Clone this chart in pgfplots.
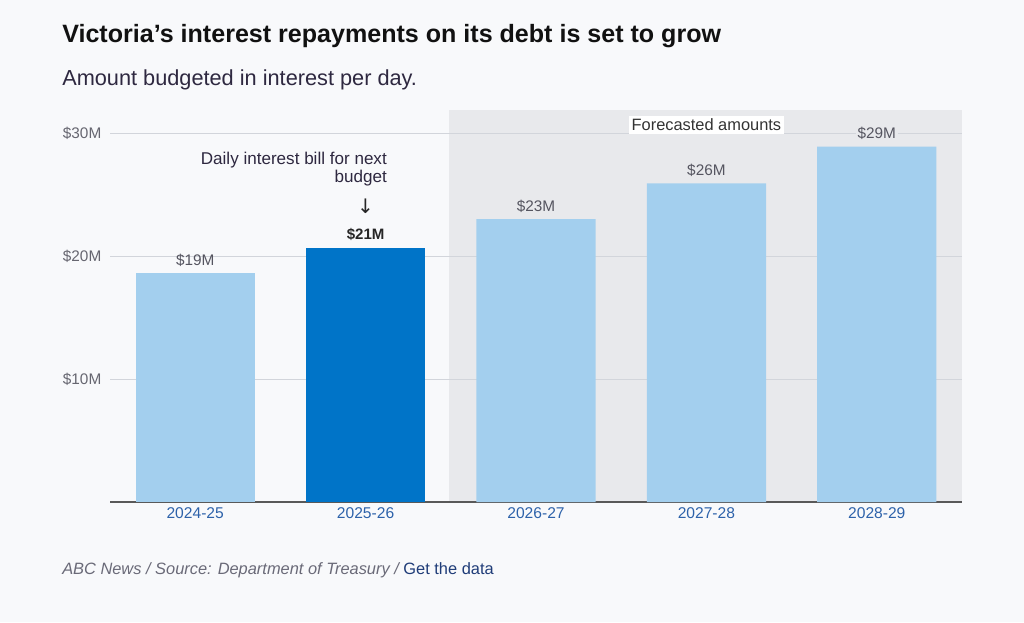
\documentclass[border=0pt]{standalone}
\usepackage{pgfplots}
\pgfplotsset{compat=1.18}
\usepackage{fontspec}
\setmainfont{Liberation Sans}
\newfontfamily\symfont{DejaVu Sans}
\definecolor{bg}{HTML}{F8F9FB}
\definecolor{shadec}{HTML}{E8E9EC}
\definecolor{lightbar}{HTML}{A3CFEE}
\definecolor{darkbar}{HTML}{0074C8}
\definecolor{xlab}{HTML}{2D62AA}
\definecolor{ylab}{HTML}{666670}
\definecolor{gridc}{HTML}{D2D5DB}
\definecolor{titlec}{HTML}{111111}
\definecolor{subc}{HTML}{2E2840}
\definecolor{foot}{HTML}{6A6A78}
\definecolor{link}{HTML}{1F3C78}
\definecolor{valc}{HTML}{555560}
\begin{document}
\begin{tikzpicture}[x=0.75pt,y=0.75pt]
\fill[bg] (0,0) rectangle (1024,622);
\fill[shadec] (449,120) rectangle (962,512);
\node[anchor=base west, inner sep=0, font=\bfseries\fontsize{18.8}{20}\selectfont, text=titlec] at (62,579) {Victoria's interest repayments on its debt is set to grow};
\node[anchor=base west, inner sep=0, font=\fontsize{16.3}{18}\selectfont, text=subc] at (62,536) {Amount budgeted in interest per day.};
\node[anchor=base west, inner sep=0, font=\fontsize{12.3}{14}\selectfont, text=foot] at (62,48) {\itshape ABC News / Source: Department of Treasury / \upshape\textcolor{link}{Get the data}};
\begin{axis}[
  at={(82.5pt,90pt)}, anchor=south west,
  scale only axis, width=639pt, height=294pt,
  xmin=-0.5, xmax=4.5, ymin=0, ymax=31.87,
  axis x line=bottom, axis y line=left,
  y axis line style={draw=none},
  x axis line style={draw=black!65, line width=0.8pt, -},
  major tick length=0pt,
  ytick={10,20,30}, yticklabels={\$10M,\$20M,\$30M},
  xtick={0,1,2,3,4}, xticklabels={2024-25,2025-26,2026-27,2027-28,2028-29},
  yticklabel style={font=\fontsize{11.5}{12}\selectfont, text=ylab, xshift=-3pt},
  xticklabel style={font=\fontsize{11.7}{13}\selectfont, text=xlab, yshift=-1pt},
  ymajorgrids, grid style={gridc, line width=0.6pt},
  /pgf/number format/assume math mode=true,
  clip=false,
]
\addplot[ybar, bar width=0.7, bar shift=0pt, fill=lightbar, draw=none,
  nodes near coords, point meta=explicit symbolic,
  nodes near coords style={font=\fontsize{11.5}{12}\selectfont, text=valc, anchor=south, inner sep=1.5pt, yshift=3.5pt}]
  coordinates {(0,18.6) [\$19M]};
\addplot[ybar, bar width=0.7, bar shift=0pt, fill=darkbar, draw=none,
  nodes near coords, point meta=explicit symbolic,
  nodes near coords style={font=\bfseries\fontsize{11.3}{12}\selectfont, text=black!85, anchor=south, inner sep=1.5pt, yshift=3.5pt}]
  coordinates {(1,20.65) [\$21M]};
\addplot[ybar, bar width=0.7, bar shift=0pt, fill=lightbar, draw=none,
  nodes near coords, point meta=explicit symbolic,
  nodes near coords style={font=\fontsize{11.5}{12}\selectfont, text=valc, anchor=south, inner sep=1.5pt, yshift=3.5pt, fill=shadec}]
  coordinates {(2,23.0) [\$23M] (3,25.9) [\$26M] (4,28.9) [\$29M]};
\node[fill=white, inner sep=2pt, font=\fontsize{12.3}{13}\selectfont, text=black!80] at (axis cs:3,30.65) {Forecasted amounts};
\node[anchor=north east, align=right, inner sep=0, font=\fontsize{12.8}{13}\selectfont, text=subc] at (axis cs:1.126,28.45) {Daily interest bill for next\\budget};
\node[inner sep=0, font=\symfont\fontsize{15}{15}\selectfont, text=black!85] at (axis cs:1,24.05) {↓};
\end{axis}
\end{tikzpicture}
\end{document}
